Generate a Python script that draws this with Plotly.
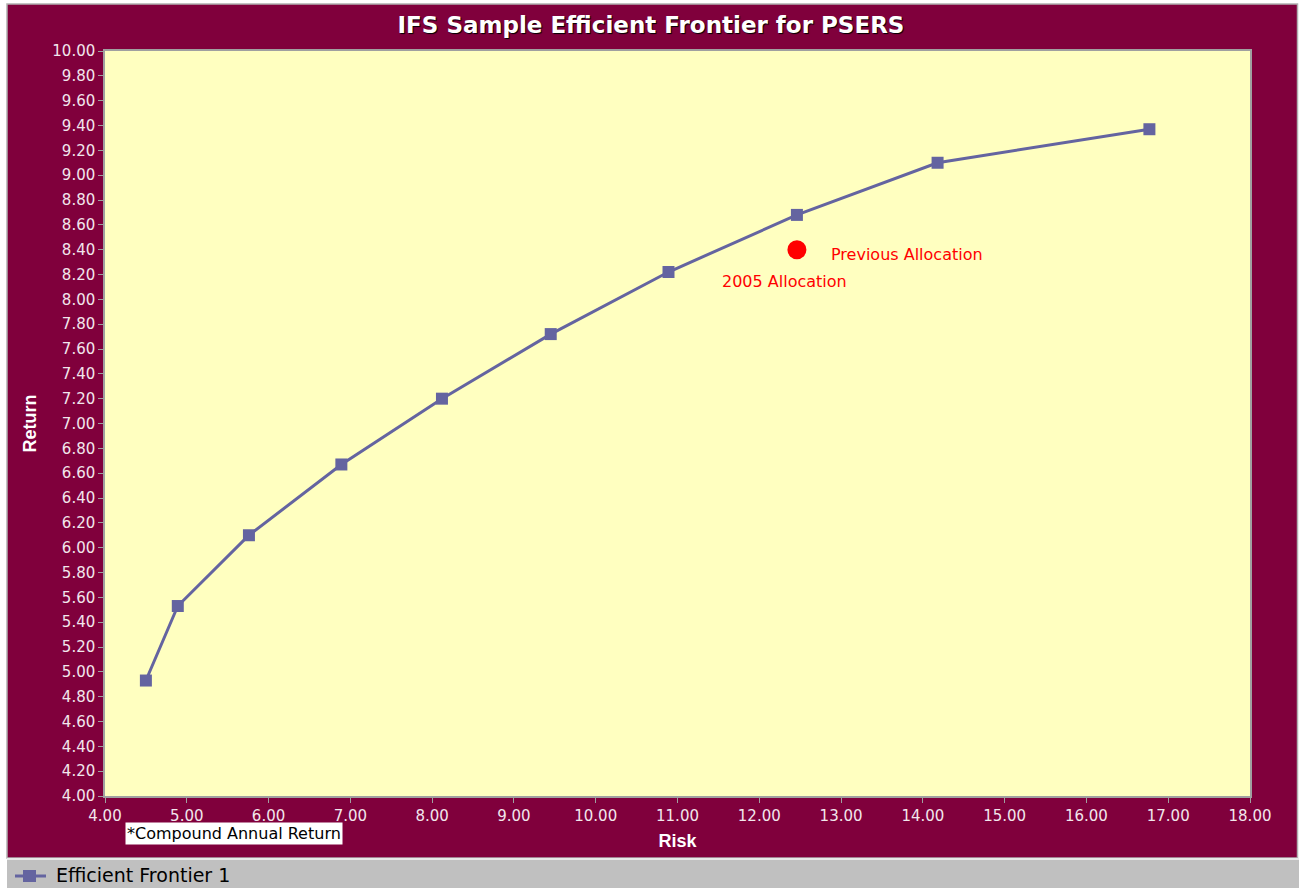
import plotly.graph_objects as go

risk = [4.50, 4.89, 5.76, 6.89, 8.12, 9.45, 10.89, 12.46, 14.18, 16.77]
ret = [4.93, 5.53, 6.10, 6.67, 7.20, 7.72, 8.22, 8.68, 9.10, 9.37]
prev_risk = [12.46]
prev_ret = [8.40]
x_ticks = [4, 5, 6, 7, 8, 9, 10, 11, 12, 13, 14, 15, 16, 17, 18]
y_ticks = [round(4 + 0.2 * i, 2) for i in range(31)]
series_name = "Efficient Frontier 1"

MAROON = "#80003c"
LINE = "#6464a0"
W, H = 1299, 888
L, R, T, B = 105, 1250, 51, 796

def px(x):
    return (x - L) / (R - L)

def py(y):
    return (B - y) / (B - T)

fig = go.Figure()
fig.add_trace(go.Scatter(
    x=risk, y=ret, mode="lines+markers", name=series_name,
    line=dict(color=LINE, width=3),
    marker=dict(symbol="square", size=12, color=LINE),
))
fig.add_trace(go.Scatter(
    x=prev_risk, y=prev_ret, mode="markers", name="Previous Allocation",
    marker=dict(symbol="circle", size=19, color="#ff0000"),
))

fig.add_annotation(x=12.85, y=8.36, text="Previous Allocation", showarrow=False,
                   xanchor="left", yanchor="middle", font=dict(color="#ff0000", size=16, family="DejaVu Sans"))
fig.add_annotation(x=11.515, y=8.14, text="2005 Allocation", showarrow=False,
                   xanchor="left", yanchor="middle", font=dict(color="#ff0000", size=16, family="DejaVu Sans"))
fig.add_annotation(xref="paper", yref="paper", x=px(125), y=py(833), text="*Compound Annual Return",
                   showarrow=False, xanchor="left", yanchor="middle", bgcolor="#ffffff",
                   borderpad=1, font=dict(color="#000000", size=16, family="DejaVu Sans"))
# legend (drawn manually in the grey bar)
fig.add_annotation(xref="paper", yref="paper", x=px(54), y=py(875), text=series_name,
                   showarrow=False, xanchor="left", yanchor="middle",
                   font=dict(color="#000000", size=19, family="DejaVu Sans"))

shapes = [
    dict(type="rect", xref="paper", yref="paper", x0=px(0), x1=px(7), y0=py(0), y1=py(888),
         fillcolor="#ffffff", line=dict(width=0), layer="below"),
    dict(type="rect", xref="paper", yref="paper", x0=px(0), x1=px(1299), y0=py(0), y1=py(4),
         fillcolor="#ffffff", line=dict(width=0), layer="below"),
    dict(type="rect", xref="paper", yref="paper", x0=px(1297), x1=px(1299), y0=py(0), y1=py(888),
         fillcolor="#ffffff", line=dict(width=0), layer="below"),
    dict(type="rect", xref="paper", yref="paper", x0=px(7), x1=px(1297.5), y0=py(4), y1=py(858),
         fillcolor="rgba(0,0,0,0)", line=dict(width=1.5, color="#b0b0b0"), layer="below"),
    dict(type="rect", xref="paper", yref="paper", x0=px(7), x1=px(1299), y0=py(859), y1=py(888),
         fillcolor="#c0c0c0", line=dict(width=0), layer="below"),
    dict(type="line", xref="paper", yref="paper", x0=px(7), x1=px(1299), y0=py(859), y1=py(859),
         line=dict(width=2, color="#e8e8e8"), layer="below"),
    dict(type="line", xref="paper", yref="paper", x0=px(15), x1=px(46), y0=py(876), y1=py(876),
         line=dict(width=3, color=LINE), layer="above"),
    dict(type="rect", xref="paper", yref="paper", x0=px(23), x1=px(36), y0=py(870), y1=py(882),
         fillcolor=LINE, line=dict(width=0), layer="above"),
]

fig.update_layout(
    width=W, height=H,
    margin=dict(l=L, r=W - R, t=T, b=H - B),
    paper_bgcolor=MAROON,
    plot_bgcolor="#ffffc0",
    shapes=shapes,
    showlegend=False,
    title=dict(text="<b>IFS Sample Efficient Frontier for PSERS</b>", xref="container", x=651 / W,
               xanchor="center", yref="container", y=1 - 25 / H, yanchor="middle",
               font=dict(color="#ffffff", size=23, family="DejaVu Sans", shadow="1px 1px 1px #000000")),
    font=dict(family="DejaVu Sans"),
)
fig.update_xaxes(
    range=[4, 18], tickvals=x_ticks, ticktext=[f"{v:.2f}" for v in x_ticks],
    showgrid=False, zeroline=False, showline=True, linecolor="#a0a0a0", linewidth=1.5, mirror=True,
    ticks="outside", ticklen=5, tickcolor="#a0a0a0",
    tickfont=dict(color="#f2e6ec", size=15, family="DejaVu Sans"),
    title=dict(text="<b>Risk</b>", font=dict(color="#ffffff", size=18, family="Arial"), standoff=11),
)
fig.update_yaxes(
    range=[4, 10], tickvals=y_ticks, ticktext=[f"{v:.2f}" for v in y_ticks],
    showgrid=False, zeroline=False, showline=True, linecolor="#a0a0a0", linewidth=1.5, mirror=True,
    ticks="outside", ticklen=5, tickcolor="#a0a0a0",
    tickfont=dict(color="#f2e6ec", size=15, family="DejaVu Sans"),
    title=dict(text="<b>Return</b>", font=dict(color="#ffffff", size=18, family="Arial"), standoff=11),
)

fig.write_html("out.html")
